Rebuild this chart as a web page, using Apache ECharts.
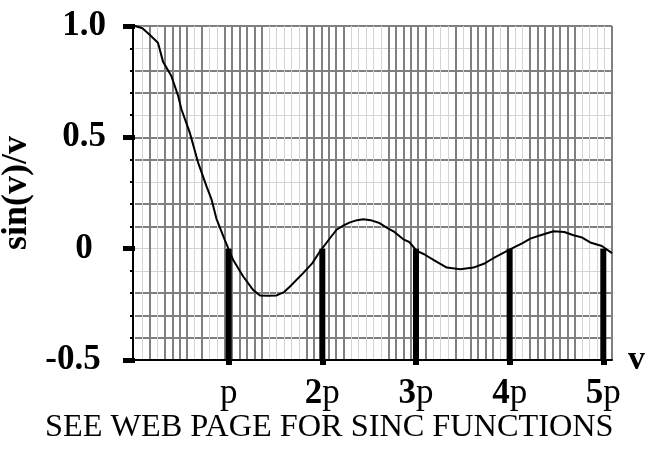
<!DOCTYPE html>
<html>
<head>
<meta charset="utf-8">
<script src="https://cdn.jsdelivr.net/npm/echarts@6/dist/echarts.min.js"></script>
<style>
  html, body { margin: 0; padding: 0; background: #fff; }
  #main { width: 647px; height: 451px; }
</style>
</head>
<body>
<div id="main"></div>
<script>
// curve (v, sin(v)/v)
var vValues = [0, 0.25, 0.5, 0.77, 0.94, 1.22, 1.45, 1.56, 1.84, 2.12, 2.4, 2.57, 2.73, 3.01, 3.29, 3.63,
  3.96, 4.19, 4.45, 4.75, 5.0, 5.2, 5.64, 5.95, 6.2, 6.5, 6.76, 7.0, 7.21, 7.45, 7.66, 7.9, 8.2, 8.44,
  8.7, 9.0, 9.2, 9.45, 9.7, 10.01, 10.46, 10.91, 11.35, 11.7, 12.02, 12.58, 13.0, 13.26, 13.6, 14.04,
  14.4, 14.71, 15.0, 15.27, 15.66, 16.0];
var sincValues = [1.0, 0.99, 0.96, 0.925, 0.84, 0.775, 0.685, 0.625, 0.52, 0.385, 0.28, 0.22, 0.135, 0.04, -0.05, -0.125,
  -0.185, -0.21, -0.212, -0.21, -0.195, -0.17, -0.11, -0.065, -0.013, 0.04, 0.085, 0.105, 0.118, 0.128, 0.132, 0.128, 0.115, 0.095,
  0.075, 0.042, 0.03, -0.01, -0.025, -0.05, -0.085, -0.092, -0.085, -0.068, -0.043, -0.003, 0.025, 0.045, 0.06, 0.078,
  0.075, 0.06, 0.05, 0.028, 0.012, -0.02];

// zero crossings (multiples of pi) and their labels
var piMultiples = [3.1416, 6.2832, 9.4248, 12.5664, 15.708];
var piLabels = ['p', '2p', '3p', '4p', '5p'];
var barValues = [-0.5, -0.5, -0.5, -0.5, -0.5];

var yTickValues = [-0.5, 0, 0.5, 1.0];
var yTickLabels = ['-0.5', '0', '0.5', '1.0'];

var captionText = 'SEE WEB PAGE FOR SINC FUNCTIONS';

// graph paper look: D = dark line, L = light line, - = none (one char per 0.25 / 0.1 step)
var vGridPattern = '-' + 'LDLDDDDLDLL' + 'DDDDDD' + 'LLLLL' + 'DDDDDD' + 'LLLLL' + 'DDDDDD' + 'LLL' +
  'D' + 'L' + 'DDDD' + 'L' + 'D' + 'LL' + 'DDDDDDD' + 'LLLL' + 'D';
var hGridPattern = '-DDDLLDDLDDLDDLD';

var FONT = '"Liberation Serif", "Times New Roman", serif';
var DARK = '#808080', LIGHT = '#d4d4d4', NONE = 'rgba(0,0,0,0)';

function colorsFor(pattern, ch, color) {
  return pattern.split('').map(function (c) { return c === ch ? color : NONE; });
}

// hidden axis that only draws one shade of the graph paper
function paperX(ch, color, width) {
  return {
    type: 'value', position: 'bottom', min: 0, max: 16, interval: 0.25,
    axisLine: { show: false }, axisTick: { show: false }, axisLabel: { show: false },
    splitLine: { show: true, lineStyle: { width: width, color: colorsFor(vGridPattern, ch, color) } }
  };
}
function paperY(ch, color, width) {
  return {
    type: 'value', position: 'left', min: -0.5, max: 1, interval: 0.1,
    axisLine: { show: false }, axisTick: { show: false }, axisLabel: { show: false },
    splitLine: { show: true, lineStyle: { width: width, color: colorsFor(hGridPattern, ch, color) } }
  };
}

var myChart = echarts.init(document.getElementById('main'));

var option = {
  animation: false,
  backgroundColor: '#fff',
  grid: { left: 135, right: 35, top: 26, bottom: 91, containLabel: false, outerBoundsMode: 'none' },
  xAxis: [
    {
      type: 'value', position: 'bottom', min: 0, max: 16,
      axisLine: { show: true, onZero: false, lineStyle: { color: '#000', width: 2 } },
      axisTick: { show: true, customValues: piMultiples, length: 5, lineStyle: { color: '#000', width: 6 } },
      axisLabel: {
        show: true, customValues: piMultiples, margin: 16,
        formatter: function (val) {
          var i = piMultiples.indexOf(val);
          if (i < 0) return '';
          var t = piLabels[i];
          var num = t.slice(0, t.length - 1);
          return (num ? '{b|' + num + '}' : '') + '{r|p}';
        },
        rich: {
          b: { fontFamily: FONT, fontWeight: 'bold', fontSize: 35, color: '#000' },
          r: { fontFamily: FONT, fontWeight: 'normal', fontSize: 35, color: '#000' }
        }
      },
      splitLine: { show: false },
      name: 'v', nameLocation: 'end', nameGap: 16,
      nameTextStyle: { fontFamily: FONT, fontWeight: 'bold', fontSize: 34, color: '#000', padding: [0, 0, 8, 0] }
    },
    paperX('L', LIGHT, 1),
    paperX('D', DARK, 2)
  ],
  yAxis: [
    {
      type: 'value', position: 'left', min: -0.5, max: 1, interval: 0.1, offset: 2,
      axisLine: { show: true, onZero: false, lineStyle: { color: '#000', width: 2 } },
      axisTick: { show: true, length: 3, lineStyle: { color: '#000', width: 2 } },
      axisLabel: { show: false },
      splitLine: { show: false }
    },
    paperY('L', LIGHT, 1),
    paperY('D', DARK, 2),
    {
      type: 'value', position: 'left', min: -0.5, max: 1, interval: 0.5, offset: 2,
      axisLine: { show: false },
      axisTick: { show: true, length: 12, lineStyle: { color: '#000', width: 5 } },
      axisLabel: {
        show: true, align: 'center', margin: 49,
        formatter: function (val) {
          for (var i = 0; i < yTickValues.length; i++) {
            if (Math.abs(yTickValues[i] - val) < 1e-6) {
              return val < 0 ? '{n|' + yTickLabels[i] + '}' : '{p|' + yTickLabels[i] + '}';
            }
          }
          return '';
        },
        rich: {
          p: { fontFamily: FONT, fontWeight: 'bold', fontSize: 35, color: '#000' },
          n: { fontFamily: FONT, fontWeight: 'bold', fontSize: 35, color: '#000', padding: [0, 22, 0, 0] }
        }
      },
      splitLine: { show: false },
      name: 'sin(v)/v', nameLocation: 'middle', nameGap: 86,
      nameTextStyle: { fontFamily: FONT, fontWeight: 'bold', fontSize: 36, color: '#000' }
    }
  ],
  graphic: [{
    type: 'text', left: 45, top: 412,
    style: { text: captionText, fontFamily: FONT, fontSize: 32.3, fill: '#000' }
  }],
  series: [
    {
      type: 'line', xAxisIndex: 0, yAxisIndex: 0, showSymbol: false, symbol: 'none',
      lineStyle: { color: '#000', width: 2 },
      data: vValues.map(function (v, i) { return [v, sincValues[i]]; }),
      z: 3
    },
    {
      type: 'bar', xAxisIndex: 0, yAxisIndex: 0, barWidth: 6,
      itemStyle: { color: '#000' },
      data: piMultiples.map(function (v, i) { return [v, barValues[i]]; }),
      z: 4
    }
  ]
};
myChart.setOption(option);
</script>
</body>
</html>
